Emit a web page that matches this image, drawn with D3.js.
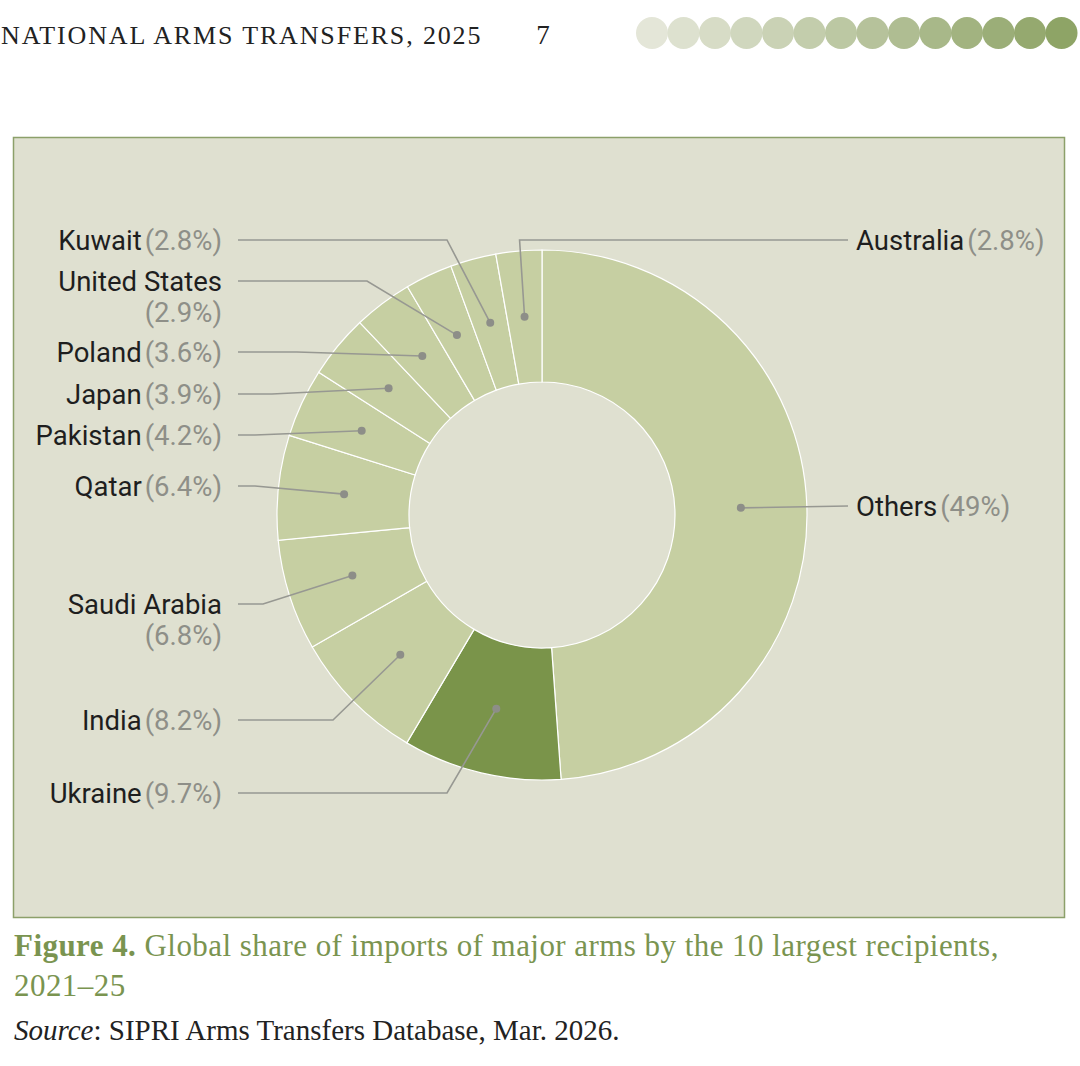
<!DOCTYPE html>
<html>
<head>
<meta charset="utf-8">
<script src="https://cdn.jsdelivr.net/npm/d3@7"></script>
<style>
  body { margin: 0; background: #fff; }
  svg { display: block; }
</style>
</head>
<body>
<div id="chart-area"></div>
<script>
// Global share of imports of major arms, 2021-25 (share of total, %)
var recipients = ['Others', 'Ukraine', 'India', 'Saudi Arabia', 'Qatar', 'Pakistan',
                  'Japan', 'Poland', 'United States', 'Kuwait', 'Australia']
var shares = [49, 9.7, 8.2, 6.8, 6.4, 4.2, 3.9, 3.6, 2.9, 2.8, 2.8]
var shareLabels = ['(49%)', '(9.7%)', '(8.2%)', '(6.8%)', '(6.4%)', '(4.2%)',
                   '(3.9%)', '(3.6%)', '(2.9%)', '(2.8%)', '(2.8%)']
var highlighted = ['Ukraine']

var width = 1080,
    height = 1066

var cx = 542, cy = 515
var outerR = 265, innerR = 133

// label placement (line y, elbow x, side, wrap percent to 2nd line)
var labelLayout = {
  'Others':        { side: 'right', y: 506 },
  'Australia':     { side: 'right', y: 240, vertical: true },
  'Kuwait':        { side: 'left', y: 240, elbow: 447 },
  'United States': { side: 'left', y: 281, elbow: 367, wrap: true },
  'Poland':        { side: 'left', y: 352, elbow: 297 },
  'Japan':         { side: 'left', y: 394, elbow: 272 },
  'Pakistan':      { side: 'left', y: 435, elbow: 255 },
  'Qatar':         { side: 'left', y: 486, elbow: 255 },
  'Saudi Arabia':  { side: 'left', y: 604, elbow: 263, wrap: true },
  'India':         { side: 'left', y: 720, elbow: 333 },
  'Ukraine':       { side: 'left', y: 793, elbow: 447 }
}

var svg = d3.select('#chart-area')
  .append('svg')
    .attr('width', width)
    .attr('height', height)

// running header
svg.append('text')
  .attr('x', 1)
  .attr('y', 44)
  .attr('font-family', 'Liberation Serif, serif')
  .attr('font-size', '26px')
  .attr('letter-spacing', '1.85px')
  .attr('fill', '#222')
  .text('NATIONAL ARMS TRANSFERS, 2025')

svg.append('text')
  .attr('x', 543)
  .attr('y', 44)
  .attr('text-anchor', 'middle')
  .attr('font-family', 'Liberation Serif, serif')
  .attr('font-size', '27px')
  .attr('fill', '#222')
  .text('7')

var dotColor = d3.interpolateRgb('#e4e6d8', '#8ea466')
svg.append('g')
  .selectAll('circle')
  .data(d3.range(14))
  .enter()
  .append('circle')
    .attr('cx', d => 652 + d * 31.5)
    .attr('cy', 33)
    .attr('r', 16)
    .attr('fill', d => dotColor(d / 13))

// panel
svg.append('rect')
  .attr('x', 13.5)
  .attr('y', 137.5)
  .attr('width', 1051)
  .attr('height', 780)
  .attr('fill', '#dfe0d0')
  .attr('stroke', '#8ca06a')
  .attr('stroke-width', 1.5)

var data = recipients.map((r, i) => ({ name: r, value: shares[i], label: shareLabels[i] }))

var pie = d3.pie()
  .sort(null)
  .value(d => d.value)

var arc = d3.arc()
  .innerRadius(innerR)
  .outerRadius(outerR)

var arcs = pie(data)

var g = svg.append('g')
  .attr('transform', 'translate(' + cx + ',' + cy + ')')

g.selectAll('path')
  .data(arcs)
  .enter()
  .append('path')
    .attr('d', arc)
    .attr('fill', d => highlighted.includes(d.data.name) ? '#7a944a' : '#c6cfa2')
    .attr('stroke', '#fff')
    .attr('stroke-width', 1.2)

// leader lines
var lineColor = '#979892'
arcs.forEach(d => {
  var c = arc.centroid(d)
  var px = cx + c[0], py = cy + c[1]
  var L = labelLayout[d.data.name]
  var pts
  if (L.side === 'right') {
    if (L.vertical) pts = [[px, py], [px - 5, L.y], [848, L.y]]
    else pts = [[px, py], [848, L.y]]
  } else {
    pts = [[px, py], [L.elbow, L.y], [238, L.y]]
  }
  svg.append('path')
    .attr('d', d3.line()(pts))
    .attr('fill', 'none')
    .attr('stroke', lineColor)
    .attr('stroke-width', 1.6)
  svg.append('circle')
    .attr('cx', px)
    .attr('cy', py)
    .attr('r', 4)
    .attr('fill', '#8d8e88')
})

// labels
var labelFont = 'Roboto, sans-serif'
var labelSize = '27.5px'
arcs.forEach(d => {
  var L = labelLayout[d.data.name]
  var t = svg.append('text')
    .attr('font-family', labelFont)
    .attr('font-size', labelSize)
    .attr('y', L.y)
    .attr('dy', '0.35em')
  if (L.side === 'right') {
    t.attr('x', 856).attr('text-anchor', 'start')
    t.append('tspan').attr('fill', '#1e1e1e').text(d.data.name)
    t.append('tspan').attr('fill', '#8e8f88').attr('dx', 3).text(d.data.label)
  } else if (L.wrap) {
    t.attr('x', 222).attr('text-anchor', 'end')
    t.append('tspan').attr('fill', '#1e1e1e').text(d.data.name)
    svg.append('text')
      .attr('font-family', labelFont)
      .attr('font-size', labelSize)
      .attr('x', 222)
      .attr('y', L.y + 31)
      .attr('dy', '0.35em')
      .attr('text-anchor', 'end')
      .attr('fill', '#8e8f88')
      .text(d.data.label)
  } else {
    t.attr('x', 222).attr('text-anchor', 'end')
    t.append('tspan').attr('fill', '#1e1e1e').text(d.data.name)
    t.append('tspan').attr('fill', '#8e8f88').attr('dx', 3).text(d.data.label)
  }
})

// caption
var capFont = 'Liberation Serif, serif'
var cap = svg.append('text')
  .attr('x', 14)
  .attr('y', 956)
  .attr('font-family', capFont)
  .attr('font-size', '31px')
  .attr('letter-spacing', '0.45px')
  .attr('fill', '#7a9450')
cap.append('tspan').attr('font-weight', 'bold').text('Figure 4.')
cap.append('tspan').text(' Global share of imports of major arms by the 10 largest recipients,')

svg.append('text')
  .attr('x', 14)
  .attr('y', 996)
  .attr('font-family', capFont)
  .attr('font-size', '31px')
  .attr('letter-spacing', '0.45px')
  .attr('fill', '#7a9450')
  .text('2021–25')

var src = svg.append('text')
  .attr('x', 14)
  .attr('y', 1040)
  .attr('font-family', capFont)
  .attr('font-size', '29px')
  .attr('fill', '#222')
src.append('tspan').attr('font-style', 'italic').text('Source')
src.append('tspan').text(': SIPRI Arms Transfers Database, Mar. 2026.')
</script>
</body>
</html>
